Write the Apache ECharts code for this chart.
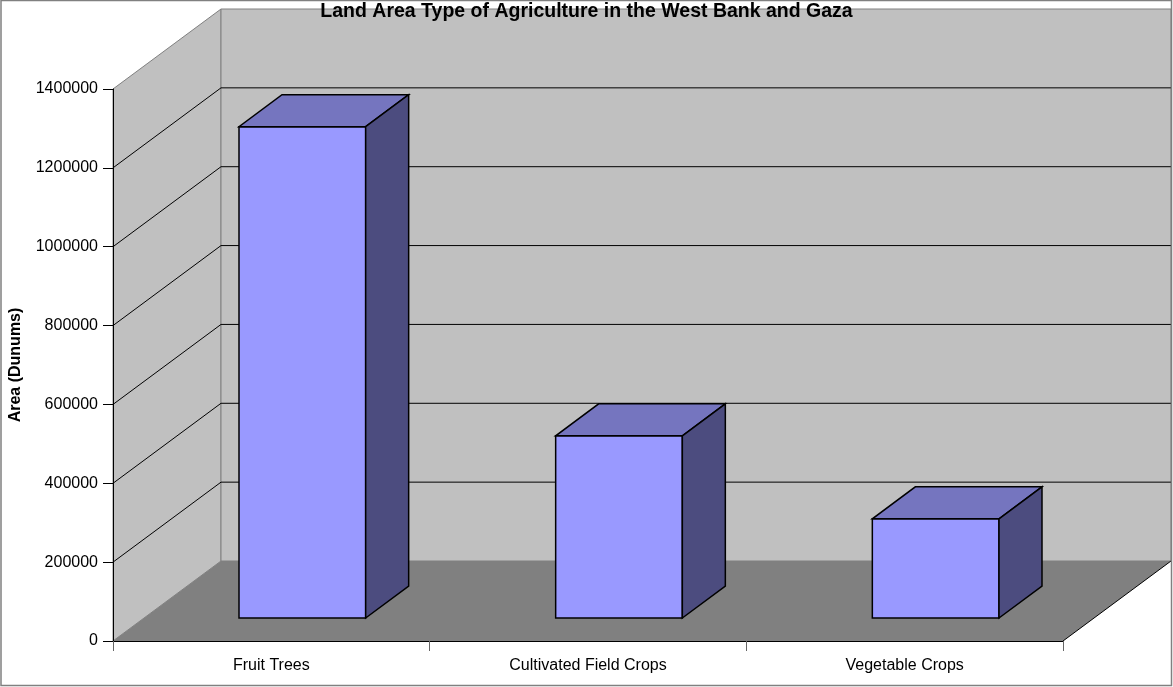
<!DOCTYPE html>
<html>
<head>
<meta charset="utf-8">
<title>Land Area Type of Agriculture in the West Bank and Gaza</title>
<script src="https://cdn.jsdelivr.net/npm/echarts@6/dist/echarts.min.js"></script>
<style>
  html, body { margin: 0; padding: 0; background: #fff; }
  #chart { width: 1173px; height: 687px; }
</style>
</head>
<body>
<div id="chart"></div>
<script>
// 数据
const categories = ['Fruit Trees', 'Cultivated Field Crops', 'Vegetable Crops'];
const areaValues = [1246000, 462000, 251500];
const yTicks = [0, 200000, 400000, 600000, 800000, 1000000, 1200000, 1400000];

const FONT = "'Liberation Sans', Arial, sans-serif";

// 3D 偏移 (px)
const DEPTH_X = 108, DEPTH_Y = -80;      // 墙/地板深度
const BAR_OFFSET_X = 31, BAR_OFFSET_Y = -23;  // 柱子前面相对前平面
const BAR_DEPTH_X = 43, BAR_DEPTH_Y = -32;    // 柱子深度
const BAR_WIDTH_RATIO = 0.4;

const chart = echarts.init(document.getElementById('chart'));

// 画墙、地板和背景网格线
function renderWalls(params, api) {
    const cs = params.coordSys;
    const x0 = cs.x, x1 = cs.x + cs.width;
    const yTop = cs.y, yBot = cs.y + cs.height;
    const children = [];

    // 左墙
    children.push({
        type: 'polygon',
        shape: { points: [[x0, yBot], [x0, yTop], [x0 + DEPTH_X, yTop + DEPTH_Y], [x0 + DEPTH_X, yBot + DEPTH_Y]] },
        style: { fill: '#c0c0c0', stroke: '#808080', lineWidth: 1 }
    });
    // 后墙
    children.push({
        type: 'rect',
        shape: { x: x0 + DEPTH_X, y: yTop + DEPTH_Y, width: cs.width, height: cs.height },
        style: { fill: '#c0c0c0', stroke: '#808080', lineWidth: 1 }
    });
    // 地板
    children.push({
        type: 'polygon',
        shape: { points: [[x0, yBot], [x1, yBot], [x1 + DEPTH_X, yBot + DEPTH_Y], [x0 + DEPTH_X, yBot + DEPTH_Y]] },
        style: { fill: '#808080' }
    });
    children.push({
        type: 'line',
        shape: { x1: x1, y1: yBot, x2: x1 + DEPTH_X, y2: yBot + DEPTH_Y },
        style: { stroke: '#000', lineWidth: 1 }
    });

    // 网格线
    yTicks.forEach(v => {
        if (v === 0 || v === yTicks[yTicks.length - 1]) return;
        const y = api.coord([0, v])[1];
        children.push({
            type: 'polyline',
            shape: { points: [[x0, y], [x0 + DEPTH_X, y + DEPTH_Y], [x1 + DEPTH_X, y + DEPTH_Y]] },
            style: { stroke: '#000', lineWidth: 1, fill: null }
        });
    });

    return { type: 'group', children: children };
}

// 画3D柱子
function renderBar(params, api) {
    const idx = api.value(0);
    const val = api.value(1);
    const base = api.coord([idx, 0]);
    const top = api.coord([idx, val]);
    const w = api.size([1, 0])[0] * BAR_WIDTH_RATIO;

    const xl = base[0] - w / 2 + BAR_OFFSET_X;
    const xr = base[0] + w / 2 + BAR_OFFSET_X;
    const yb = base[1] + BAR_OFFSET_Y;
    const yt = top[1] + BAR_OFFSET_Y;
    const edge = { stroke: '#000', lineWidth: 1.5, lineJoin: 'miter' };

    return {
        type: 'group',
        children: [
            {
                type: 'polygon',
                shape: { points: [[xl, yb], [xr, yb], [xr, yt], [xl, yt]] },
                style: Object.assign({ fill: '#9999ff' }, edge)
            },
            {
                type: 'polygon',
                shape: { points: [[xl, yt], [xr, yt], [xr + BAR_DEPTH_X, yt + BAR_DEPTH_Y], [xl + BAR_DEPTH_X, yt + BAR_DEPTH_Y]] },
                style: Object.assign({ fill: '#7575bf' }, edge)
            },
            {
                type: 'polygon',
                shape: { points: [[xr, yb], [xr + BAR_DEPTH_X, yb + BAR_DEPTH_Y], [xr + BAR_DEPTH_X, yt + BAR_DEPTH_Y], [xr, yt]] },
                style: Object.assign({ fill: '#4c4c7f' }, edge)
            }
        ]
    };
}

const option = {
    animation: false,
    backgroundColor: '#fff',
    textStyle: { fontFamily: FONT },
    title: {
        text: 'Land Area Type of Agriculture in the West Bank and Gaza',
        left: 'center',
        top: 2,
        padding: 0,
        textStyle: { fontFamily: FONT, fontSize: 19.5, fontWeight: 'bold', color: '#000' }
    },
    graphic: [{
        type: 'rect',
        shape: { x: 1, y: 0.5, width: 1170.5, height: 685 },
        style: { fill: null, stroke: '#808080', lineWidth: 1.5 },
        z: 100
    }],
    grid: { left: 113, right: 110, top: 89, bottom: 46, containLabel: false, outerBoundsMode: 'none' },
    xAxis: {
        type: 'category',
        data: categories,
        z: 10,
        axisLine: { lineStyle: { color: '#000', width: 1 } },
        axisTick: { show: true, length: 10, interval: 0, lineStyle: { color: '#666' } },
        axisLabel: { color: '#000', fontSize: 16, fontFamily: FONT, margin: 17, interval: 0 },
        splitLine: { show: false }
    },
    yAxis: {
        type: 'value',
        min: 0,
        max: 1400000,
        interval: 200000,
        z: 10,
        name: 'Area (Dunums)',
        nameLocation: 'middle',
        nameGap: 89,
        nameTextStyle: { color: '#000', fontSize: 16, fontWeight: 'bold', fontFamily: FONT },
        axisLine: { show: true, lineStyle: { color: '#000', width: 1 } },
        axisTick: { show: true, length: 10, lineStyle: { color: '#000' } },
        axisLabel: { color: '#000', fontSize: 16, fontFamily: FONT, margin: 15, formatter: v => String(v) },
        splitLine: { show: false }
    },
    series: [
        {
            type: 'custom',
            name: 'walls',
            silent: true,
            z: 1,
            renderItem: renderWalls,
            data: [[0, 0]]
        },
        {
            type: 'custom',
            name: 'Area',
            z: 3,
            renderItem: renderBar,
            encode: { x: 0, y: 1 },
            data: areaValues.map((v, i) => [i, v])
        }
    ]
};

chart.setOption(option);
</script>
</body>
</html>
